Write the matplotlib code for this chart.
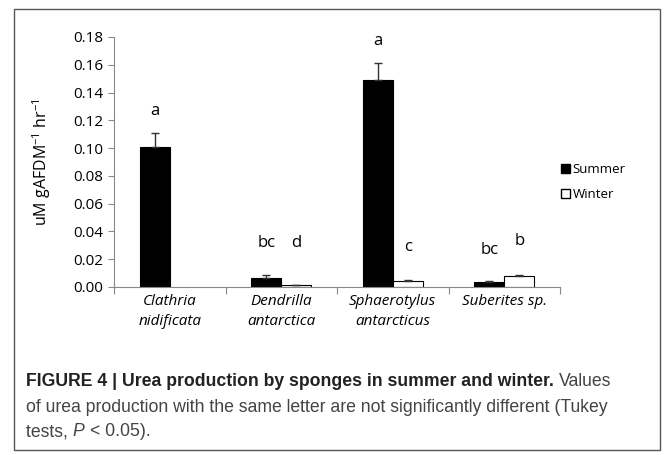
import matplotlib
matplotlib.use("Agg")
import matplotlib.pyplot as plt
import numpy as np
from matplotlib.patches import Rectangle, Patch

categories = ["Clathria\nnidificata", "Dendrilla\nantarctica", "Sphaerotylus\nantarcticus", "Suberites sp."]
summer = [0.1005, 0.0068, 0.1490, 0.0033]
summer_err = [0.0105, 0.0020, 0.0120, 0.0010]
winter = [np.nan, 0.0012, 0.0043, 0.0078]
winter_err = [np.nan, 0.0003, 0.0008, 0.0008]
summer_letters = ["a", "bc", "a", "bc"]
winter_letters = ["", "d", "c", "b"]
summer_letter_y = [0.127, 0.032, 0.177, 0.027]
winter_letter_y = [None, 0.032, 0.029, 0.033]
yticks = [0.00, 0.02, 0.04, 0.06, 0.08, 0.10, 0.12, 0.14, 0.16, 0.18]

chart_font = "Open Sans"
cap_font = "Liberation Sans"
plt.rcParams["mathtext.fontset"] = "custom"
plt.rcParams["mathtext.rm"] = chart_font
plt.rcParams["mathtext.it"] = chart_font + ":italic"

W, H = 672, 455
fig = plt.figure(figsize=(W / 100, H / 100), dpi=100)

# outer frame
fig.patches.append(Rectangle((14 / W, 1 - 450 / H), (660 - 14) / W, (450 - 9) / H,
                             transform=fig.transFigure, fill=False, edgecolor="#555555", lw=1.0))

ax = fig.add_axes([114 / W, 1 - 287 / H, (560 - 114) / W, (287 - 37) / H])
x = np.arange(len(categories))
bw = 0.27
zeros = np.zeros(len(categories))
ekw = dict(ecolor="#333333", elinewidth=1, capsize=3, capthick=1)
ax.bar(x - bw / 2, summer, bw, color="black", edgecolor="black", lw=0.8,
       yerr=[zeros, summer_err], error_kw=ekw)
ax.bar(x + bw / 2, winter, bw, color="white", edgecolor="black", lw=0.8,
       yerr=[zeros, winter_err], error_kw=ekw)

for i in range(len(categories)):
    ax.text(x[i] - bw / 2, summer_letter_y[i], summer_letters[i], ha="center", va="center",
            fontsize=12, family=chart_font)
    if winter_letter_y[i] is not None:
        ax.text(x[i] + bw / 2, winter_letter_y[i], winter_letters[i], ha="center", va="center",
                fontsize=12, family=chart_font)

ax.set_xlim(-0.5, len(categories) - 0.5)
ax.set_ylim(0, 0.18)
ax.set_yticks(yticks)
ax.set_yticklabels([f"{v:.2f}" for v in yticks], family=chart_font, fontsize=11)
ax.set_xticks(np.arange(-0.5, len(categories), 1.0))
ax.set_xticklabels([])
ax.set_xticks(x, minor=True)
ax.set_xticklabels(categories, minor=True, family=chart_font, fontsize=11, style="italic",
                   linespacing=1.45)
ax.tick_params(axis="x", which="minor", length=0, pad=5)
ax.tick_params(axis="x", which="major", length=5, color="#888888", direction="out")
ax.tick_params(axis="y", length=4, color="#888888", direction="out", pad=4)
for s in ["top", "right"]:
    ax.spines[s].set_visible(False)
for s in ["left", "bottom"]:
    ax.spines[s].set_color("#888888")
ax.set_ylabel("uM gAFDM$^{-1}$ hr$^{-1}$", family=chart_font, fontsize=11.5, labelpad=14)

handles = [Patch(facecolor="black", edgecolor="black", label="Summer"),
           Patch(facecolor="white", edgecolor="black", label="Winter")]
fig.legend(handles=handles, loc="upper left", bbox_to_anchor=(549 / W, 1 - 151 / H),
           frameon=False, prop={"family": chart_font, "size": 9.5},
           handlelength=0.7, handleheight=0.7, handletextpad=0.2, labelspacing=0.95)

# caption
cap_size = 12.7
r = fig.canvas.get_renderer()
t1 = fig.text(26 / W, 1 - 381 / H, "FIGURE 4 | Urea production by sponges in summer and winter.",
              family=cap_font, fontsize=cap_size, weight="bold",
              va="center", color="#222222")
bb = t1.get_window_extent(r)
fig.text(bb.x1 / W + 5 / W, 1 - 381 / H, "Values", family=cap_font, fontsize=cap_size,
         va="center", color="#444444")
fig.text(26 / W, 1 - 407 / H, "of urea production with the same letter are not significantly different (Tukey",
         family=cap_font, fontsize=cap_size, va="center", color="#444444")
t_tests = fig.text(26 / W, 1 - 432 / H, "tests, ", family=cap_font, fontsize=cap_size,
                   va="center", color="#444444")
b2 = t_tests.get_window_extent(r)
tp = fig.text(b2.x1 / W, 1 - 432 / H, "P", family=cap_font, style="italic", fontsize=cap_size,
              va="center", color="#444444")
b3 = tp.get_window_extent(r)
fig.text(b3.x1 / W + 6 / W, 1 - 432 / H, "< 0.05).", family=cap_font, fontsize=cap_size,
         va="center", color="#444444")

fig.savefig("out.png", dpi=100)
